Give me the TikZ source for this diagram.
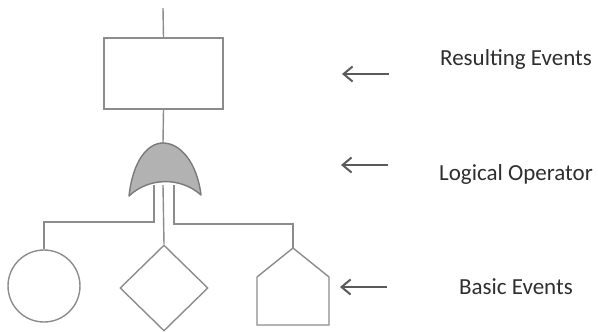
\documentclass[tikz,border=0pt]{standalone}
\usepackage{fontspec}
\setmainfont{Carlito}
\usetikzlibrary{arrows.meta,shapes.geometric}
\definecolor{ln}{HTML}{8C8C8C}
\definecolor{ar}{HTML}{5A5A5A}
\definecolor{gf}{HTML}{B2B2B2}
\definecolor{gs}{HTML}{7A7A7A}
\tikzset{
  shp/.style={draw=ln, line width=1.4pt, fill=white, inner sep=0pt},
  conn/.style={draw=ln, line width=1.4pt},
  pointer/.style={draw=ar, line width=2.4pt, {Straight Barb[length=9pt,width=15pt,line width=2pt]}-},
  lbl/.style={anchor=base, font=\fontsize{23}{26}\selectfont, text=black!82}
}
\begin{document}
\begin{tikzpicture}[x=1pt,y=-1pt]
\useasboundingbox (0,0) rectangle (598,332);
% shapes
\node[shp, rectangle, minimum width=119pt, minimum height=71pt] (res) at (163.5,73.5) {};
\coordinate (topend) at (163,8);
\coordinate (gtop) at (163,143);
\coordinate (gl) at (154,185);
\coordinate (gm) at (163,185);
\coordinate (gr) at (174,185);
\coordinate (bendl) at (154,222);
\coordinate (bendl2) at (44,222);
\coordinate (bendr) at (174,224);
\coordinate (bendr2) at (293,224);
\node[shp, circle, minimum size=72pt] (circ) at (44,286) {};
\node[shp, diamond, minimum width=88pt, minimum height=86pt] (dia) at (164,288) {};
\coordinate (house) at (293,248);
% connectors
\draw[conn] (topend) -- (res.north);
\draw[conn] (res.south) -- (gtop);
\draw[conn] (gl) -- (bendl) -- (bendl2) -- (circ.north);
\draw[conn] (gm) -- (dia.north);
\draw[conn] (gr) -- (bendr) -- (bendr2) -- (house);
% house
\draw[conn] (257,277) -- (house) -- (329,277) -- (329,325) -- (257,325) -- cycle;
% gate
\draw[draw=gs, fill=gf, line width=1.4pt, line join=round]
  (129,196) .. controls (133,160) and (148,143) .. (gtop)
  .. controls (180,143) and (197,162) .. (201,195)
  .. controls (181,177) and (149,177) .. (129,196) -- cycle;
% pointers and labels
\coordinate (a1l) at (342,74); \coordinate (a1r) at (389,74);
\coordinate (a2l) at (341,165); \coordinate (a2r) at (388,165);
\coordinate (a3l) at (340,287); \coordinate (a3r) at (387,287);
\draw[pointer] (a1l) -- (a1r);
\draw[pointer] (a2l) -- (a2r);
\draw[pointer] (a3l) -- (a3r);
\node[lbl] (t1) at (516,65) {Resulting Events};
\node[lbl] (t2) at (516,180) {Logical Operator};
\node[lbl] (t3) at (516,294) {Basic Events};
\end{tikzpicture}
\end{document}
